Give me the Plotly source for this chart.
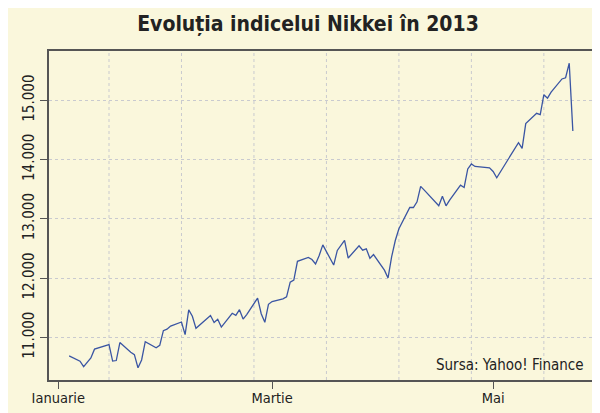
import plotly.graph_objects as go
import pandas as pd

# ---- data ----
dates = [
    "2013-01-04", "2013-01-07", "2013-01-08", "2013-01-09", "2013-01-10", "2013-01-11",
    "2013-01-15", "2013-01-16", "2013-01-17", "2013-01-18", "2013-01-21", "2013-01-22",
    "2013-01-23", "2013-01-24", "2013-01-25", "2013-01-28", "2013-01-29", "2013-01-30",
    "2013-01-31", "2013-02-01", "2013-02-04", "2013-02-05", "2013-02-06", "2013-02-07",
    "2013-02-08", "2013-02-12", "2013-02-13", "2013-02-14", "2013-02-15", "2013-02-18",
    "2013-02-19", "2013-02-20", "2013-02-21", "2013-02-22", "2013-02-25", "2013-02-26",
    "2013-02-27", "2013-02-28", "2013-03-01", "2013-03-04", "2013-03-05", "2013-03-06",
    "2013-03-07", "2013-03-08", "2013-03-11", "2013-03-12", "2013-03-13", "2013-03-14",
    "2013-03-15", "2013-03-18", "2013-03-19", "2013-03-21", "2013-03-22", "2013-03-25",
    "2013-03-26", "2013-03-27", "2013-03-28", "2013-03-29", "2013-04-01", "2013-04-02",
    "2013-04-03", "2013-04-04", "2013-04-05", "2013-04-08", "2013-04-09", "2013-04-10",
    "2013-04-11", "2013-04-12", "2013-04-15", "2013-04-16", "2013-04-17", "2013-04-18",
    "2013-04-19", "2013-04-22", "2013-04-23", "2013-04-24", "2013-04-25", "2013-04-26",
    "2013-04-30", "2013-05-01", "2013-05-02", "2013-05-07", "2013-05-08", "2013-05-09",
    "2013-05-10", "2013-05-13", "2013-05-14", "2013-05-15", "2013-05-16", "2013-05-17",
    "2013-05-20", "2013-05-21", "2013-05-22", "2013-05-23",
]
nikkei = [
    10688, 10599, 10508, 10579, 10653, 10802,
    10879, 10600, 10610, 10913, 10748, 10710,
    10487, 10620, 10927, 10824, 10867, 11114,
    11139, 11191, 11260, 11047, 11464, 11357,
    11153, 11369, 11251, 11307, 11174, 11408,
    11372, 11468, 11309, 11386, 11663, 11399,
    11254, 11559, 11606, 11652, 11683, 11932,
    11968, 12284, 12349, 12315, 12240, 12381,
    12561, 12221, 12468, 12636, 12339, 12546,
    12472, 12494, 12336, 12398, 12135, 12003,
    12362, 12635, 12834, 13193, 13192, 13288,
    13549, 13485, 13276, 13221, 13383, 13220,
    13316, 13568, 13530, 13843, 13926, 13884,
    13861, 13799, 13694, 14180, 14286, 14191,
    14608, 14782, 14758, 15096, 15037, 15138,
    15361, 15381, 15627, 14484,
]

x_tick_dates = ["2013-01-01", "2013-03-01", "2013-05-01"]
x_tick_labels = ["Ianuarie", "Martie", "Mai"]
x_grid_dates = ["2013-01-15", "2013-02-04", "2013-02-24", "2013-03-16",
                "2013-04-05", "2013-04-25", "2013-05-15"]
y_tick_vals = [11000, 12000, 13000, 14000, 15000]
y_tick_labels = ["11.000", "12.000", "13.000", "14.000", "15.000"]

title_text = "Evoluția indicelui Nikkei în 2013"
source_text = "Sursa: Yahoo! Finance"

# ---- figure ----
BG = "#FAF7DC"
FONT = "DejaVu Sans Condensed, DejaVu Sans, sans-serif"
GRID = "#C9CACF"
AXIS = "#555555"

fig = go.Figure()
fig.add_trace(go.Scatter(
    x=pd.to_datetime(dates), y=nikkei, mode="lines",
    line=dict(color="#3A55A3", width=1.3), hoverinfo="skip",
))

# R-style 4% range expansion
d = pd.to_datetime(dates)
span = d.max() - d.min()
x0 = d.min() - span * 0.04
x1 = d.max() + span * 0.04
yspan = max(nikkei) - min(nikkei)
y0 = min(nikkei) - yspan * 0.04
y1 = max(nikkei) + yspan * 0.04

for gd in x_grid_dates:
    fig.add_shape(type="line", xref="x", yref="paper", x0=gd, x1=gd, y0=0, y1=1,
                  line=dict(color=GRID, width=1, dash="dot"), layer="below")

fig.update_layout(
    width=600, height=413,
    paper_bgcolor=BG, plot_bgcolor=BG,
    margin=dict(l=41, r=15, t=43, b=41),
    showlegend=False,
    title=dict(text=title_text, x=0.5, xanchor="center", y=1 - 8 / 413, yanchor="top",
               font=dict(family=FONT, size=21, color="#222222", weight="bold")),
    xaxis=dict(
        type="date", range=[x0, x1],
        tickvals=pd.to_datetime(x_tick_dates), ticktext=x_tick_labels,
        ticks="outside", ticklen=7, tickcolor=AXIS, tickwidth=1.2,
        ticklabelstandoff=-3,
        showgrid=False, zeroline=False,
        showline=True, mirror=True, linecolor=AXIS, linewidth=1.5,
        tickfont=dict(family=FONT, size=14.5, color="#222222"),
    ),
    yaxis=dict(
        range=[y0, y1],
        tickvals=y_tick_vals, ticktext=y_tick_labels, tickangle=-90,
        ticks="outside", ticklen=7, tickcolor=AXIS, tickwidth=1.2,
        showgrid=True, gridcolor=GRID, griddash="dot", gridwidth=1,
        zeroline=False,
        showline=True, mirror=True, linecolor=AXIS, linewidth=1.5,
        tickfont=dict(family=FONT, size=15, color="#222222"),
    ),
    annotations=[dict(
        text=source_text, xref="paper", yref="paper", x=0.987, y=0.045,
        xanchor="right", yanchor="middle", showarrow=False,
        font=dict(family=FONT, size=15, color="#222222"),
    )],
)

fig.write_html("out.html")
